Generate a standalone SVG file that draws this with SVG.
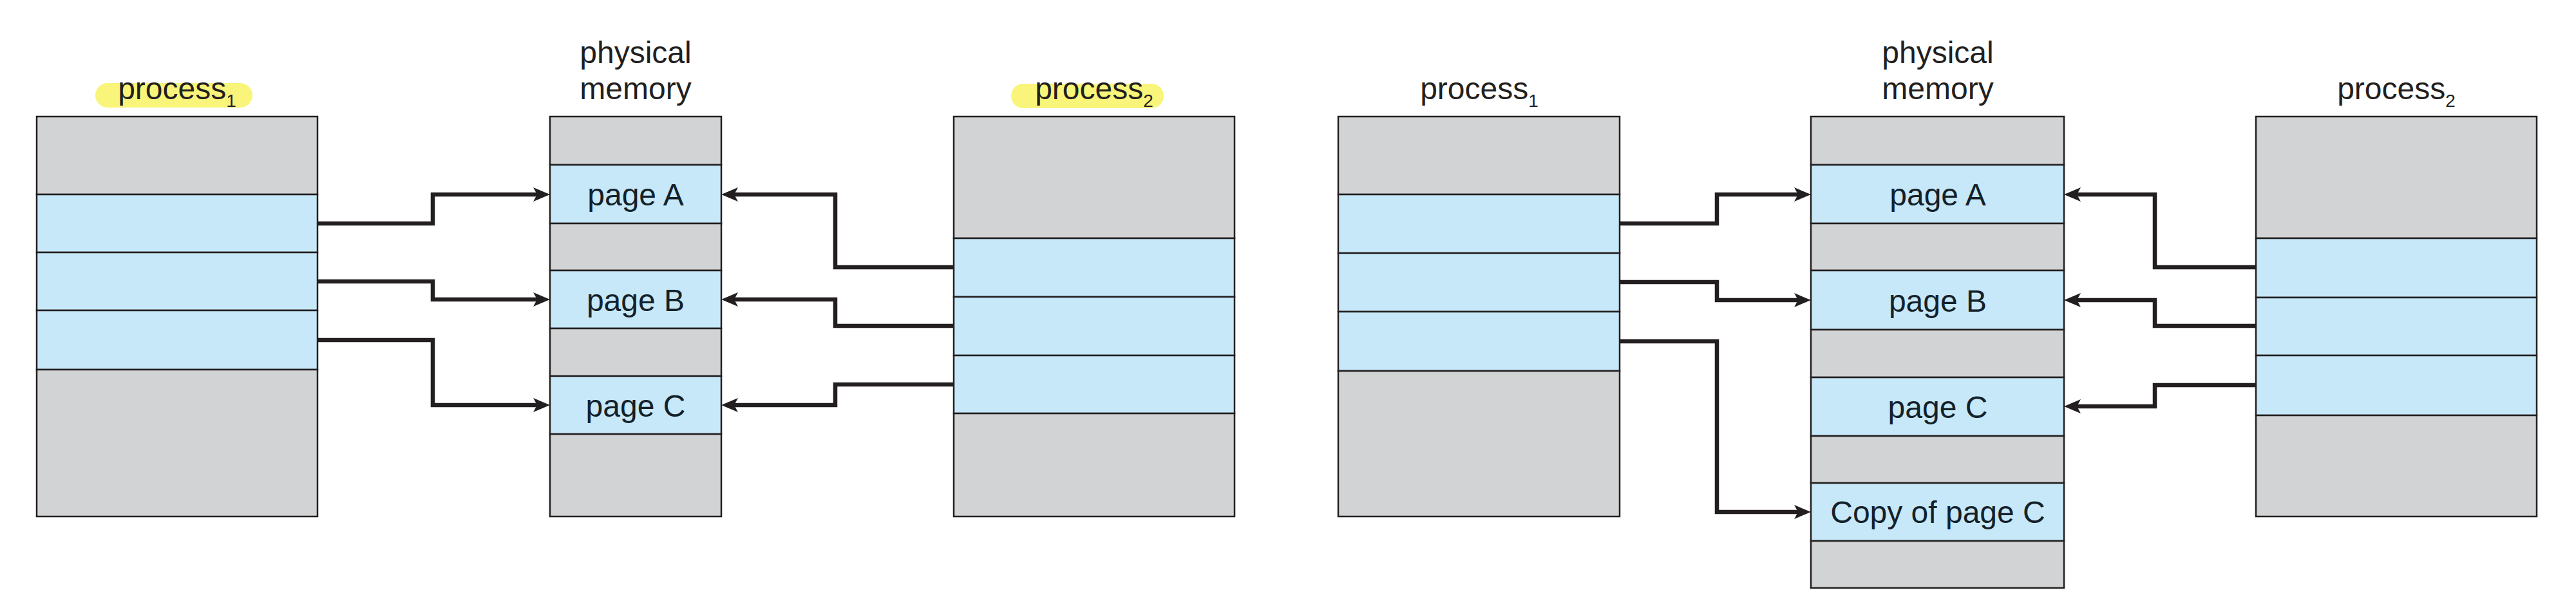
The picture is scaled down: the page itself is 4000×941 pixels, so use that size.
<svg xmlns="http://www.w3.org/2000/svg" width="4000" height="941" viewBox="0 0 4000 941">
<defs>
<style>
.g{fill:#D1D3D4;stroke:#231F20;stroke-width:2.5}
.b{fill:#C7E8F8;stroke:#231F20;stroke-width:2.5}
.t{font-family:"Liberation Sans",Arial,Helvetica,sans-serif;font-size:48px;fill:#231F20;text-anchor:middle}
.pt{font-family:"Liberation Sans",Arial,Helvetica,sans-serif;font-size:48px;fill:#13212B;text-anchor:middle}
.sub{font-size:28px}
.hl{fill:#F8F57A}
.c{fill:none;stroke:#231F20;stroke-width:6.5;stroke-linejoin:miter;marker-end:url(#ah)}
</style>
<marker id="ah" viewBox="0 0 28 24" refX="7" refY="12" markerWidth="28" markerHeight="24" markerUnits="userSpaceOnUse" orient="auto">
<path d="M1,1 L27,12 L1,23 L7,12 Z" fill="#231F20"/>
</marker>
</defs>
<rect width="4000" height="941" fill="#FFFFFF"/>

<g id="left-process1">
<rect class="hl" x="148" y="129" width="244" height="38" rx="19"/>
<text class="t" x="275" y="154">process<tspan class="sub" dy="12">1</tspan></text>
<rect class="g" x="57" y="181" width="436" height="121"/>
<rect class="b" x="57" y="302" width="436" height="90"/>
<rect class="b" x="57" y="392" width="436" height="90"/>
<rect class="b" x="57" y="482" width="436" height="92"/>
<rect class="g" x="57" y="574" width="436" height="228"/>
</g>

<g id="left-physical-memory">
<text class="t" x="987" y="98">physical</text>
<text class="t" x="987" y="154">memory</text>
<rect class="g" x="854" y="181" width="266" height="75"/>
<rect class="b" x="854" y="256" width="266" height="91"/>
<rect class="g" x="854" y="347" width="266" height="73"/>
<rect class="b" x="854" y="420" width="266" height="90"/>
<rect class="g" x="854" y="510" width="266" height="74"/>
<rect class="b" x="854" y="584" width="266" height="90"/>
<rect class="g" x="854" y="674" width="266" height="128"/>
<text class="pt" x="987" y="319">page A</text>
<text class="pt" x="987" y="483">page B</text>
<text class="pt" x="987" y="647">page C</text>
</g>

<g id="left-process2">
<rect class="hl" x="1570" y="130" width="237" height="38" rx="19"/>
<text class="t" x="1699" y="154">process<tspan class="sub" dy="12">2</tspan></text>
<rect class="g" x="1481" y="181" width="436" height="189"/>
<rect class="b" x="1481" y="370" width="436" height="91"/>
<rect class="b" x="1481" y="461" width="436" height="91"/>
<rect class="b" x="1481" y="552" width="436" height="90"/>
<rect class="g" x="1481" y="642" width="436" height="160"/>
</g>

<g id="right-process1">
<text class="t" x="2297" y="154">process<tspan class="sub" dy="12">1</tspan></text>
<rect class="g" x="2078" y="181" width="437" height="121"/>
<rect class="b" x="2078" y="302" width="437" height="91"/>
<rect class="b" x="2078" y="393" width="437" height="91"/>
<rect class="b" x="2078" y="484" width="437" height="92"/>
<rect class="g" x="2078" y="576" width="437" height="226"/>
</g>

<g id="right-physical-memory">
<text class="t" x="3009" y="98">physical</text>
<text class="t" x="3009" y="154">memory</text>
<rect class="g" x="2812" y="181" width="393" height="75"/>
<rect class="b" x="2812" y="256" width="393" height="91"/>
<rect class="g" x="2812" y="347" width="393" height="73"/>
<rect class="b" x="2812" y="420" width="393" height="92"/>
<rect class="g" x="2812" y="512" width="393" height="74"/>
<rect class="b" x="2812" y="586" width="393" height="91"/>
<rect class="g" x="2812" y="677" width="393" height="73"/>
<rect class="b" x="2812" y="750" width="393" height="90"/>
<rect class="g" x="2812" y="840" width="393" height="73"/>
<text class="pt" x="3009" y="319">page A</text>
<text class="pt" x="3009" y="484">page B</text>
<text class="pt" x="3009" y="649">page C</text>
<text class="pt" x="3009" y="812">Copy of page C</text>
</g>

<g id="right-process2">
<text class="t" x="3721" y="154">process<tspan class="sub" dy="12">2</tspan></text>
<rect class="g" x="3503" y="181" width="436" height="189"/>
<rect class="b" x="3503" y="370" width="436" height="92"/>
<rect class="b" x="3503" y="462" width="436" height="90"/>
<rect class="b" x="3503" y="552" width="436" height="93"/>
<rect class="g" x="3503" y="645" width="436" height="157"/>
</g>

<g id="connectors">
<path class="c" d="M493,347 H672 V302 H834"/>
<path class="c" d="M493,437 H672 V465 H834"/>
<path class="c" d="M493,528 H672 V629 H834"/>
<path class="c" d="M1481,415 H1297 V302 H1140"/>
<path class="c" d="M1481,506 H1297 V465 H1140"/>
<path class="c" d="M1481,597 H1297 V629 H1140"/>
<path class="c" d="M2515,347 H2666 V302 H2792"/>
<path class="c" d="M2515,438 H2666 V466 H2792"/>
<path class="c" d="M2515,530 H2666 V795 H2792"/>
<path class="c" d="M3503,415 H3346 V302 H3225"/>
<path class="c" d="M3503,506 H3346 V466 H3225"/>
<path class="c" d="M3503,598 H3346 V631 H3225"/>
</g>
</svg>
